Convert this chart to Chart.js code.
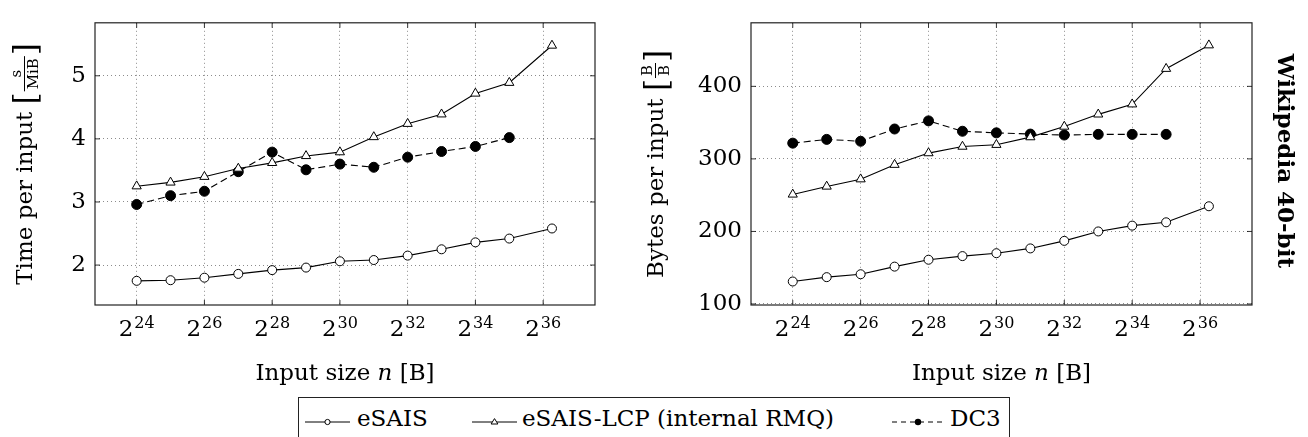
<!DOCTYPE html>
<html>
<head>
<meta charset="utf-8">
<script src="https://cdn.jsdelivr.net/npm/chart.js@4.4.0/dist/chart.umd.min.js"></script>
<style>
  html, body { margin: 0; padding: 0; background: #fff; }
  body { width: 1308px; height: 437px; position: relative; overflow: hidden; font-family: 'DejaVu Serif', serif; }
  canvas { position: absolute; top: 0; }
  #cTime { left: 0; }
  #cMem { left: 640px; }
  #legend { position: absolute; left: 298px; top: 397px; width: 712px; height: 60px; border: 1px solid #222; box-sizing: border-box; }
  #legend span { position: absolute; top: 9px; font-size: 23px; line-height: 23px; white-space: nowrap; color: #000; }
  #legend svg { position: absolute; top: 18px; overflow: visible; }
</style>
</head>
<body>
<canvas id="cTime" width="640" height="395"></canvas>
<canvas id="cMem" width="668" height="395"></canvas>
<div id="legend"></div>

<script>
// 入力サイズ (log2 バイト)
const sizeLog2 = [24, 25, 26, 27, 28, 29, 30, 31, 32, 33, 34, 35, 36.26];
const xTickExps = [24, 26, 28, 30, 32, 34, 36];

// 左: 時間 [s/MiB]
const timeESAIS = [1.75, 1.76, 1.80, 1.86, 1.92, 1.96, 2.06, 2.08, 2.15, 2.25, 2.36, 2.42, 2.58];
const timeLCP   = [3.25, 3.31, 3.40, 3.53, 3.62, 3.73, 3.79, 4.03, 4.24, 4.39, 4.72, 4.89, 5.48];
const timeDC3   = [2.96, 3.10, 3.17, 3.48, 3.79, 3.51, 3.60, 3.55, 3.71, 3.80, 3.88, 4.02];
const timeTicks = [2, 3, 4, 5];

// 右: メモリ [B/B]
const memESAIS = [131, 137, 141, 151.5, 161, 166, 170, 176.6, 187, 200, 208, 212.6, 234.7];
const memLCP   = [251, 262, 272, 292, 308, 317, 319.5, 330, 344.6, 361.4, 375.3, 424.3, 456.7];
const memDC3   = [321.7, 326.9, 324.3, 341.2, 352.4, 338.1, 335.9, 334.2, 332.9, 333.8, 333.8, 333.8];
const memTicks = [100, 200, 300, 400];

const seriesNames = ['eSAIS', 'eSAIS-LCP (internal RMQ)', 'DC3'];

const FONT = "'DejaVu Serif', serif";
const GRID = 'rgba(0,0,0,0.45)';

// 系列ごとのマーカー
const seriesStyles = [
  { pointStyle: 'circle', pointRadius: 4.5, pointBackgroundColor: '#fff' },
  { pointStyle: 'triangle', pointRadius: 5.3, pointBackgroundColor: '#fff' },
  { pointStyle: 'circle', pointRadius: 5, pointBackgroundColor: '#000', borderDash: [7, 4] },
];

function makeSet(i, values) {
  return Object.assign({
    label: seriesNames[i],
    data: values.map((v, k) => ({ x: sizeLog2[k], y: v })),
    borderColor: '#000',
    borderWidth: 1.1,
    pointBorderColor: '#000',
    pointBorderWidth: 1,
    pointHoverRadius: 0,
    tension: 0,
    fill: false,
  }, seriesStyles[i]);
}

// 回転した y 軸タイトル (分数付き)
function drawYTitle(ctx, bx, cy, main, num, den) {
  ctx.save();
  ctx.translate(bx, cy);
  ctx.rotate(-Math.PI / 2);
  ctx.fillStyle = '#000';
  ctx.textAlign = 'left';
  ctx.textBaseline = 'alphabetic';
  const fMain = '23px ' + FONT, fBr = '31px ' + FONT, fFr = '15px ' + FONT;
  ctx.font = fMain; const wMain = ctx.measureText(main).width;
  ctx.font = fBr; const wB = ctx.measureText('[').width;
  ctx.font = fFr;
  const wN = ctx.measureText(num).width, wD = ctx.measureText(den).width;
  const wF = Math.max(wN, wD) + 4;
  let x = -(wMain + 2 * wB + wF + 2) / 2;
  ctx.font = fMain; ctx.fillText(main, x, 0); x += wMain;
  ctx.font = fBr; ctx.fillText('[', x, 4); x += wB + 1;
  ctx.font = fFr;
  ctx.fillText(num, x + (wF - wN) / 2, -11);
  ctx.fillText(den, x + (wF - wD) / 2, 6);
  ctx.fillRect(x, -8, wF, 1);
  x += wF + 1;
  ctx.font = fBr; ctx.fillText(']', x, 4);
  ctx.restore();
}

// 枠・内向き目盛・x 軸ラベル・タイトル
const framePlugin = {
  id: 'frame',
  afterDraw(chart, args, opts) {
    const { ctx, chartArea: a, scales: { x, y } } = chart;
    ctx.save();
    ctx.strokeStyle = '#000';
    ctx.lineWidth = 0.8;
    ctx.beginPath();
    x.ticks.forEach(t => {
      const px = x.getPixelForValue(t.value);
      ctx.moveTo(px, a.bottom); ctx.lineTo(px, a.bottom - 5);
      ctx.moveTo(px, a.top); ctx.lineTo(px, a.top + 5);
    });
    y.ticks.forEach(t => {
      const py = y.getPixelForValue(t.value);
      ctx.moveTo(a.left, py); ctx.lineTo(a.left + 5, py);
      ctx.moveTo(a.right, py); ctx.lineTo(a.right - 5, py);
    });
    ctx.stroke();
    ctx.lineWidth = 1.2;
    ctx.strokeStyle = '#222';
    ctx.strokeRect(a.left, a.top, a.right - a.left, a.bottom - a.top);

    // 2^k ラベル
    ctx.fillStyle = '#000';
    ctx.textAlign = 'left';
    ctx.textBaseline = 'alphabetic';
    const fBig = '23px ' + FONT, fSup = '16px ' + FONT;
    x.ticks.forEach(t => {
      const px = x.getPixelForValue(t.value);
      const e = String(t.value);
      ctx.font = fBig; const w1 = ctx.measureText('2').width;
      ctx.font = fSup; const w2 = ctx.measureText(e).width;
      const x0 = px - (w1 + w2 + 1) / 2;
      ctx.font = fBig; ctx.fillText('2', x0, a.bottom + 31);
      ctx.font = fSup; ctx.fillText(e, x0 + w1 + 1, a.bottom + 23);
    });

    // x 軸タイトル: Input size n [B]
    const p1 = 'Input size ', p2 = 'n', p3 = ' [B]';
    const fIt = 'italic 23px ' + FONT;
    ctx.font = fBig; const w1 = ctx.measureText(p1).width, w3 = ctx.measureText(p3).width;
    ctx.font = fIt; const w2 = ctx.measureText(p2).width;
    let tx = (a.left + a.right) / 2 - (w1 + w2 + w3) / 2;
    const ty = a.bottom + 75;
    ctx.font = fBig; ctx.fillText(p1, tx, ty); tx += w1;
    ctx.font = fIt; ctx.fillText(p2, tx, ty); tx += w2;
    ctx.font = fBig; ctx.fillText(p3, tx, ty);
    ctx.restore();

    drawYTitle(ctx, opts.titleX, (a.top + a.bottom) / 2, opts.main, opts.num, opts.den);

    if (opts.side) {
      ctx.save();
      ctx.translate(opts.sideX, (a.top + a.bottom) / 2 - 3);
      ctx.rotate(Math.PI / 2);
      ctx.font = 'bold 23px ' + FONT;
      ctx.fillStyle = '#000';
      ctx.textAlign = 'center';
      ctx.textBaseline = 'alphabetic';
      ctx.fillText(opts.side, 0, 0);
      ctx.restore();
    }
  },
};

function buildChart(id, sets, yMin, yMax, yTicks, yWidth, padRight, frameOpts) {
  return new Chart(document.getElementById(id), {
    type: 'line',
    data: { datasets: sets },
    plugins: [framePlugin],
    options: {
      responsive: false,
      animation: false,
      events: [],
      layout: { padding: { top: 5, right: padRight, left: 0, bottom: 0 } },
      plugins: {
        legend: { display: false },
        tooltip: { enabled: false },
        frame: frameOpts,
      },
      scales: {
        x: {
          type: 'linear',
          min: 22.77,
          max: 37.53,
          afterBuildTicks: s => { s.ticks = xTickExps.map(v => ({ value: v })); },
          afterFit: s => { s.height = 90; },
          ticks: { display: false },
          grid: { color: GRID, lineWidth: 1, drawTicks: false },
          border: { display: false, dash: [1, 3] },
        },
        y: {
          type: 'linear',
          min: yMin,
          max: yMax,
          afterBuildTicks: s => { s.ticks = yTicks.map(v => ({ value: v })); },
          afterFit: s => { s.width = yWidth; },
          ticks: { color: '#000', padding: 9, font: { family: FONT, size: 23 }, callback: v => String(v) },
          grid: { color: GRID, lineWidth: 1, drawTicks: false },
          border: { display: false, dash: [1, 3] },
        },
      },
    },
  });
}

buildChart('cTime',
  [makeSet(0, timeESAIS), makeSet(1, timeLCP), makeSet(2, timeDC3)],
  1.367, 5.84, timeTicks, 95, 45,
  { titleX: 32, main: 'Time per input ', num: 's', den: 'MiB' });

buildChart('cMem',
  [makeSet(0, memESAIS), makeSet(1, memLCP), makeSet(2, memDC3)],
  98.6, 487.6, memTicks, 111, 56,
  { titleX: 23, main: 'Bytes per input ', num: 'B', den: 'B', side: 'Wikipedia 40-bit', sideX: 638 });

// 凡例 (HTML)
const legendPos = [
  { sym: 6, text: 58, w: 45 },
  { sym: 173, text: 223, w: 45 },
  { sym: 593, text: 651, w: 52 },
];
const legendSyms = [
  w => `<line x1="0" y1="6" x2="${w}" y2="6" stroke="#000" stroke-width="1"/><circle cx="${w / 2}" cy="6" r="2.6" fill="#fff" stroke="#000" stroke-width="1"/>`,
  w => `<line x1="0" y1="6" x2="${w}" y2="6" stroke="#000" stroke-width="1"/><polygon points="${w / 2},2.6 ${w / 2 + 3.4},8 ${w / 2 - 3.4},8" fill="#fff" stroke="#000" stroke-width="1"/>`,
  w => `<line x1="0" y1="6" x2="${w}" y2="6" stroke="#000" stroke-width="1" stroke-dasharray="5 4"/><circle cx="${w / 2}" cy="6" r="3.2" fill="#000"/>`,
];
document.getElementById('legend').innerHTML = seriesNames.map((name, i) => {
  const p = legendPos[i];
  return `<svg style="left:${p.sym}px" width="${p.w}" height="12">${legendSyms[i](p.w)}</svg>` +
         `<span style="left:${p.text}px">${name}</span>`;
}).join('');
</script>
</body>
</html>
